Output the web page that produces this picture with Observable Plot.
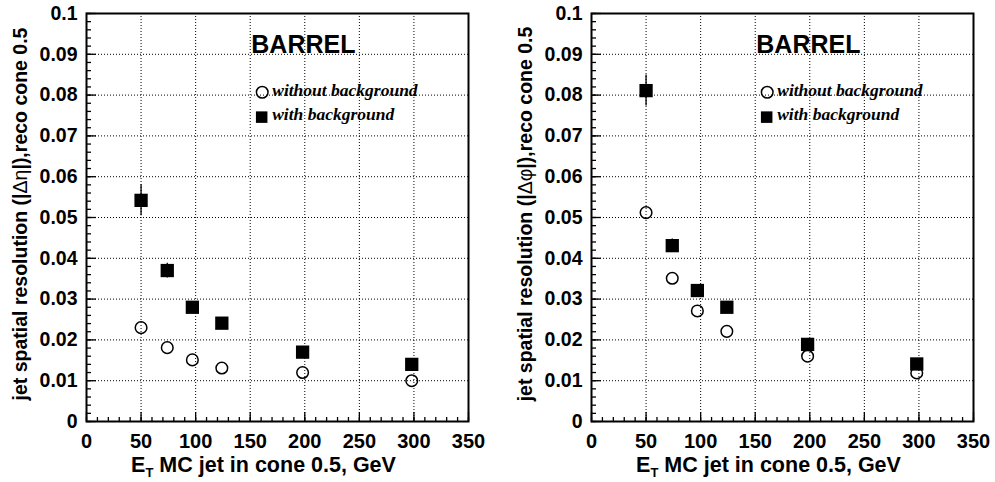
<!DOCTYPE html>
<html>
<head>
<meta charset="utf-8">
<script src="https://cdn.jsdelivr.net/npm/d3@7"></script>
<script src="https://cdn.jsdelivr.net/npm/@observablehq/plot@0.6"></script>
<style>
  html, body { margin: 0; padding: 0; background: white; }
  #wrap { display: flex; width: 995px; height: 482px; }
</style>
</head>
<body>
<div id="wrap"></div>
<script>
// ---- data ----
const energies = [50, 74, 97, 124, 198, 298];           // E_T MC jet (GeV)
const etaWithout = [0.0230, 0.0181, 0.0151, 0.0131, 0.0120, 0.0100];
const etaWith    = [0.0542, 0.0370, 0.0280, 0.0241, 0.0170, 0.0140];
const etaWithErr = [0.0038, 0.0018, 0, 0, 0, 0];
const phiWithout = [0.0512, 0.0351, 0.0271, 0.0221, 0.0160, 0.0119];
const phiWith    = [0.0811, 0.0431, 0.0321, 0.0280, 0.0189, 0.0141];
const phiWithErr = [0.0038, 0.0016, 0, 0, 0, 0];

const xTicks = [0, 50, 100, 150, 200, 250, 300, 350];
const xTickLabels = ["0", "50", "100", "150", "200", "250", "300", "350"];
const yTicks = [0, 0.01, 0.02, 0.03, 0.04, 0.05, 0.06, 0.07, 0.08, 0.09, 0.1];
const yTickLabels = ["0", "0.01", "0.02", "0.03", "0.04", "0.05", "0.06", "0.07", "0.08", "0.09", "0.1"];
const xMinor = d3.range(0, 351, 10);
const yMinor = d3.range(0, 51).map(i => i * 0.002);

const panelTitle = "BARREL";
const legendLabels = ["without background", "with background"];
const xLabelMain = "E";
const xLabelSub = "T";
const xLabelRest = " MC jet in cone 0.5, GeV";

function panel({width, marginLeft, marginRight, without, withBg, withErr, sym}) {
  const H = 482, MT = 13, MB = 61;
  const plotH = H - MT - MB;
  const plotW = width - marginLeft - marginRight;
  const pts = energies.map((e, i) => ({e, wo: without[i], w: withBg[i], err: withErr[i]}));
  const errPts = pts.filter(d => d.err > 0);
  const fig = Plot.plot({
    width, height: H, marginLeft, marginRight, marginTop: MT, marginBottom: MB,
    x: {domain: [0, 350]},
    y: {domain: [0, 0.1]},
    style: {fontFamily: "'Liberation Sans', Arial, sans-serif", color: "black", background: "white", overflow: "visible"},
    marks: [
      Plot.gridX(xTicks, {stroke: "black", strokeOpacity: 1, strokeWidth: 1, strokeDasharray: "1,2"}),
      Plot.gridY(yTicks, {stroke: "black", strokeOpacity: 1, strokeWidth: 1, strokeDasharray: "1,2"}),
      Plot.ruleX(xMinor, {x: d => d, stroke: "black", strokeWidth: 1.3, insetTop: plotH - 4}),
      Plot.ruleX(xTicks, {x: d => d, stroke: "black", strokeWidth: 1.3, insetTop: plotH - 9}),
      Plot.ruleY(yMinor, {y: d => d, stroke: "black", strokeWidth: 1.3, insetRight: plotW - 5}),
      Plot.ruleY(yTicks, {y: d => d, stroke: "black", strokeWidth: 1.3, insetRight: plotW - 10}),
      Plot.axisX({ticks: xTicks, tickSize: 0, tickPadding: 12, fontSize: 20, fontWeight: "bold", label: null,
        tickFormat: d => xTickLabels[xTicks.indexOf(d)]}),
      Plot.axisY({ticks: yTicks, tickSize: 0, tickPadding: 9, fontSize: 19.5, fontWeight: "bold", label: null,
        tickFormat: d => yTickLabels[yTicks.indexOf(d)]}),
      Plot.frame({stroke: "black", strokeWidth: 2}),
      Plot.ruleX(errPts, {x: "e", y1: d => d.w - d.err, y2: d => d.w + d.err, stroke: "black", strokeWidth: 1.3}),
      Plot.dot(pts, {x: "e", y: "wo", r: 5.8, stroke: "black", strokeWidth: 1.5, fill: "none"}),
      Plot.dot(pts, {x: "e", y: "w", symbol: "square", r: 7.5, fill: "black", stroke: "none"}),
      // panel label and legend
      Plot.text([panelTitle], {x: 151, y: 0.0922, text: d => d, textAnchor: "start", fontSize: 25, fontWeight: "bold"}),
      Plot.dot([0], {x: 161, y: 0.0807, r: 5.8, stroke: "black", strokeWidth: 1.5, fill: "none"}),
      Plot.dot([0], {x: 160.5, y: 0.0746, symbol: "square", r: 6.5, fill: "black"}),
      Plot.text([legendLabels[0]], {x: 161, y: 0.0807, text: d => d, dx: 10, dy: -2, textAnchor: "start",
        fontSize: 17.5, fontWeight: "bold", fontStyle: "italic", fontFamily: "'Liberation Serif', 'Times New Roman', serif"}),
      Plot.text([legendLabels[1]], {x: 160.5, y: 0.0746, text: d => d, dx: 10.5, dy: -3, textAnchor: "start",
        fontSize: 17.5, fontWeight: "bold", fontStyle: "italic", fontFamily: "'Liberation Serif', 'Times New Roman', serif"})
    ]
  });
  const svg = d3.select(fig);
  // x axis title with subscript
  const xt = svg.append("text")
    .attr("x", marginLeft + 177.5).attr("y", 472)
    .attr("text-anchor", "middle")
    .attr("font-size", 21.5).attr("font-weight", "bold").attr("fill", "black");
  xt.append("tspan").text(xLabelMain);
  xt.append("tspan").attr("font-size", 13).attr("dy", 5).text(xLabelSub);
  xt.append("tspan").attr("dy", -5).text(xLabelRest);
  // y axis title
  const yt = svg.append("text")
    .attr("transform", `translate(${marginLeft - 59},214) rotate(-90)`)
    .attr("text-anchor", "middle")
    .attr("font-size", 19.5).attr("font-weight", "bold").attr("fill", "black");
  yt.append("tspan").text("jet spatial resolution (|");
  yt.append("tspan").attr("font-weight", "normal").text("Δ" + sym);
  yt.append("tspan").text("|),reco cone 0.5");
  return fig;
}

const wrap = document.getElementById("wrap");
wrap.appendChild(panel({width: 497, marginLeft: 86, marginRight: 29, without: etaWithout, withBg: etaWith, withErr: etaWithErr, sym: "η"}));
wrap.appendChild(panel({width: 498, marginLeft: 94, marginRight: 22, without: phiWithout, withBg: phiWith, withErr: phiWithErr, sym: "φ"}));
</script>
</body>
</html>
